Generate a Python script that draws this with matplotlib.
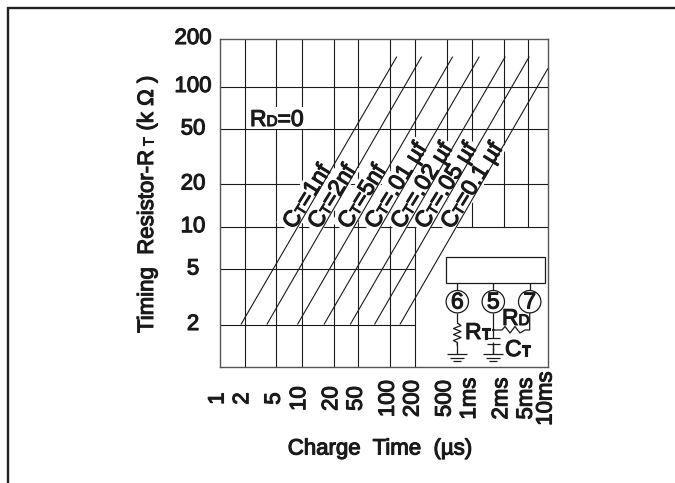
import numpy as np
import matplotlib
matplotlib.use('Agg')
import matplotlib.pyplot as plt
import matplotlib.patheffects as pe
from matplotlib.font_manager import FontProperties
from matplotlib.patches import Circle, Polygon, Rectangle
from matplotlib.transforms import Affine2D, ScaledTranslation

# ---- DATA ----
x_ticks = [1, 2, 5, 10, 20, 50, 100, 200, 500, 1000, 2000, 5000, 10000]
x_tick_labels = ['1', '2', '5', '10', '20', '50', '100', '200', '500', '1ms', '2ms', '5ms', '10ms']
y_ticks = [1, 2, 5, 10, 20, 50, 100, 200]
y_tick_labels = ['', '2', '5', '10', '20', '50', '100', '200']

# the printed grid is not a true log grid, so the scale goes through where each tick was drawn
x_tick_px = [220, 244.7, 276.3, 301.7, 333.7, 358.3, 390.3, 415, 447, 471.7, 503.7, 528.3, 548]
y_tick_px = [367, 324.5, 269, 226.7, 184, 129, 86.5, 38.5]

# charge time at RT = 2k and where each line stops
ct_names = ['1nf', '2nf', '5nf', '.01 µf', '.02 µf', '.05 µf', '0.1 µf']
t_start = [1.8, 3.8, 8.9, 16.2, 37, 71, 131]
t_end = [120, 242, 587, 1179, 2123, 5176, 10000]
r_start = [2, 2, 2, 2, 2, 2, 2]
r_end = [154, 154, 154, 154, 154, 154, 130]

FONT = 'Liberation Sans'
INK = '#1a1a1a'
W, H = 675, 483
STROKE = [pe.withStroke(linewidth=0.8, foreground=INK)]

fig = plt.figure(figsize=(W / 100, H / 100), dpi=100)
ax = fig.add_axes([220 / W, 1 - 367 / H, (548 - 220) / W, (367 - 38.5) / H])
px = Affine2D().scale(1, -1).translate(0, H)   # picture pixels, y down


def x_scale(v):
    return np.interp(np.log10(np.maximum(v, 1e-9)), np.log10(x_ticks), x_tick_px)


def x_scale_inv(p):
    return 10 ** np.interp(p, x_tick_px, np.log10(x_ticks))


def y_scale(v):
    return -np.interp(np.log10(np.maximum(v, 1e-9)), np.log10(y_ticks), y_tick_px)


def y_scale_inv(p):
    return 10 ** np.interp(-np.asarray(p), y_tick_px[::-1], np.log10(y_ticks)[::-1])


ax.set_xscale('function', functions=(x_scale, x_scale_inv))
ax.set_yscale('function', functions=(y_scale, y_scale_inv))
ax.set_xlim(1, 10000)
ax.set_ylim(1, 200)
ax.minorticks_off()

ax.set_xticks(x_ticks)
ax.set_xticklabels(x_tick_labels, rotation=90, va='center', ha='center', fontsize=16, family=FONT, color=INK)
ax.set_yticks(y_ticks)
ax.set_yticklabels(y_tick_labels, ha='center', va='center', fontsize=16, family=FONT, color=INK)
ax.tick_params(axis='x', length=0, pad=22.7)
ax.tick_params(axis='y', length=0, pad=19.4)
ax.xaxis.set_minor_formatter(plt.NullFormatter())
ax.yaxis.set_minor_formatter(plt.NullFormatter())
shift = ScaledTranslation(-2 / 100, 0, fig.dpi_scale_trans)
for lab in ax.get_xticklabels():
    lab.set_path_effects(STROKE)
    lab.set_transform(lab.get_transform() + shift)
for lab in ax.get_yticklabels():
    lab.set_path_effects(STROKE)
for s in ax.spines.values():
    s.set_color('#555555')
    s.set_linewidth(1.0)

# ---- GRID ----
for v in x_ticks[1:12]:
    ax.plot([v, v], [1 if v <= 200 else 10, 200], color=INK, lw=0.8, zorder=1)
for v in y_ticks[1:7]:
    ax.plot([1, 10000 if v >= 10 else 200], [v, v], color=INK, lw=0.8, zorder=1)

# ---- CT LINES ----
for i in range(len(ct_names)):
    ax.plot([t_start[i], t_end[i]], [r_start[i], r_end[i]], color=INK, lw=0.8, zorder=4, solid_capstyle='butt')


def text_width(s, size):
    fp = FontProperties(family=FONT, size=size)
    tp = fig.canvas.get_renderer()
    a = tp.get_text_width_height_descent('x' + s + 'x', fp, False)[0]
    b = tp.get_text_width_height_descent('xx', fp, False)[0]
    return a - b


def pieces(x, y, parts, angle=0, mask=False, zorder=5):
    # walk along the baseline so that the small letters (CT, RD) follow the big ones
    a = np.radians(angle)
    ux, uy = np.cos(a), -np.sin(a)
    total = sum(text_width(s, size) for s, size in parts)
    if mask:
        nx, ny = np.sin(a), np.cos(a)
        h, d, m = 19, 3, 3
        corners = [(x - ux * m + nx * d, y - uy * m + ny * d),
                   (x + ux * (total + m) + nx * d, y + uy * (total + m) + ny * d),
                   (x + ux * (total + m) - nx * h, y + uy * (total + m) - ny * h),
                   (x - ux * m - nx * h, y - uy * m - ny * h)]
        ax.add_patch(Polygon(corners, closed=True, fc='white', ec='none', transform=px, clip_on=False, zorder=2))
    for s, size in parts:
        ax.text(x, y, s, fontsize=size, family=FONT, color=INK, rotation=angle, rotation_mode='anchor',
                ha='left', va='baseline', transform=px, clip_on=False, zorder=zorder, path_effects=STROKE)
        w = text_width(s, size)
        x += ux * w
        y += uy * w


# ---- LABELS ON THE LINES ----
label_start = [(294, 230), (319, 230), (349, 230), (376, 230), (402, 230), (426, 230), (452, 230)]
for (lx, ly), name in zip(label_start, ct_names):
    pieces(lx, ly, [('C', 16.5), ('T', 10.5), ('=' + name, 16.5)], angle=58, mask=True)

pieces(250, 126, [('R', 16.5), ('D', 11), ('=0', 16.5)], mask=True)

# ---- AXIS TITLES ----
ax.text(380, 449, 'Charge  Time  (µs)', fontsize=16, family=FONT, color=INK, ha='center', va='center',
        transform=px, clip_on=False, path_effects=STROKE)
pieces(153, 333, [('Timing  Resistor-R', 16), (' ', 10), ('T', 10.5), (' (k Ω )', 16)], angle=90)

# ---- CIRCUIT ----
ax.add_patch(Rectangle((446, 257), 98.7, 26, fc='white', ec=INK, lw=0.9, transform=px, clip_on=False, zorder=3))


def wire(xs, ys, lw=0.9):
    ax.plot(xs, ys, color=INK, lw=lw, transform=px, clip_on=False, zorder=5, solid_capstyle='butt')


def ground(x, y):
    wire([x, x], [y - 12, y])
    for half, dy in zip([10, 7, 4], [0, 3.5, 7]):
        wire([x - half, x + half], [y + dy, y + dy])


pin_x = [457.3, 493.3, 529.7]
pin_no = ['6', '5', '7']
for x, n in zip(pin_x, pin_no):
    wire([x, x], [283, 290.5])
    ax.add_patch(Circle((x, 301.7), 11.2, fc='white', ec=INK, lw=0.9, transform=px, clip_on=False, zorder=5))
    ax.text(x, 302, n, fontsize=16.5, family=FONT, color=INK, ha='center', va='center', transform=px,
            clip_on=False, zorder=6, path_effects=STROKE)

# RT
wire([457.3, 457.3], [313, 323])
wire([457.3, 461, 453.5, 461, 453.5, 461, 453.5, 457.3, 457.3],
     [323, 325.5, 328.5, 331.5, 334.5, 337.5, 340.5, 342.5, 346])
ground(457.3, 354)
# CT
wire([493.3, 493.3], [313, 338.3])
wire([487, 499.5], [338.3, 338.3])
wire([487, 499.5], [343.5, 343.5])
wire([493.3, 493.3], [343.5, 354])
ground(493.3, 354)
ax.add_patch(Circle((493.3, 330), 1.3, fc=INK, ec='none', transform=px, clip_on=False, zorder=6))
# RD
wire([493.3, 502, 505, 510, 515, 520, 525, 529.7, 529.7], [330, 330, 326.5, 333, 326.5, 333, 330, 330, 313])

pieces(502, 325, [('R', 16.5), ('D', 11)])
pieces(465, 339, [('R', 16.5), ('T', 11)])
pieces(505, 356, [('C', 16.5), ('T', 11)])

# ---- OUTER FRAME ----
fig.add_artist(plt.Line2D([8 / W, 8 / W, 1], [0, 1 - 7.5 / H, 1 - 7.5 / H], color='#222222', lw=1.7,
                          solid_joinstyle='miter'))

plt.savefig('out.png', dpi=100)
plt.close()
